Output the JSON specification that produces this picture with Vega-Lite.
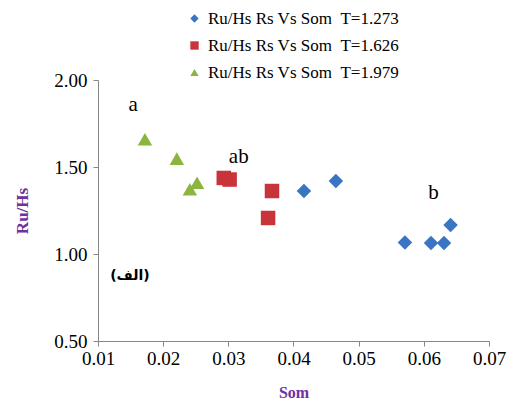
{
  "$schema": "https://vega.github.io/schema/vega-lite/v6.json",
  "width": 391,
  "height": 261,
  "autosize": {"type": "none"},
  "padding": {"left": 98, "top": 80, "right": 18, "bottom": 61},
  "background": "white",
  "config": {
    "view": {"stroke": null},
    "font": "Liberation Serif"
  },
  "datasets": {
    "pts": [
      {"Som": 0.0416, "RuHs": 1.362, "series": "Ru/Hs Rs Vs Som\u00a0\u00a0T=1.273"},
      {"Som": 0.0465, "RuHs": 1.420, "series": "Ru/Hs Rs Vs Som\u00a0\u00a0T=1.273"},
      {"Som": 0.0571, "RuHs": 1.066, "series": "Ru/Hs Rs Vs Som\u00a0\u00a0T=1.273"},
      {"Som": 0.0611, "RuHs": 1.063, "series": "Ru/Hs Rs Vs Som\u00a0\u00a0T=1.273"},
      {"Som": 0.0631, "RuHs": 1.063, "series": "Ru/Hs Rs Vs Som\u00a0\u00a0T=1.273"},
      {"Som": 0.0641, "RuHs": 1.167, "series": "Ru/Hs Rs Vs Som\u00a0\u00a0T=1.273"},
      {"Som": 0.0293, "RuHs": 1.437, "series": "Ru/Hs Rs Vs Som\u00a0\u00a0T=1.626"},
      {"Som": 0.0302, "RuHs": 1.428, "series": "Ru/Hs Rs Vs Som\u00a0\u00a0T=1.626"},
      {"Som": 0.0367, "RuHs": 1.362, "series": "Ru/Hs Rs Vs Som\u00a0\u00a0T=1.626"},
      {"Som": 0.0361, "RuHs": 1.207, "series": "Ru/Hs Rs Vs Som\u00a0\u00a0T=1.626"},
      {"Som": 0.0172, "RuHs": 1.660, "series": "Ru/Hs Rs Vs Som\u00a0\u00a0T=1.979"},
      {"Som": 0.0221, "RuHs": 1.548, "series": "Ru/Hs Rs Vs Som\u00a0\u00a0T=1.979"},
      {"Som": 0.0252, "RuHs": 1.410, "series": "Ru/Hs Rs Vs Som\u00a0\u00a0T=1.979"},
      {"Som": 0.0241, "RuHs": 1.372, "series": "Ru/Hs Rs Vs Som\u00a0\u00a0T=1.979"}
    ],
    "labels": [
      {"Som": 0.0154, "RuHs": 1.856, "t": "a"},
      {"Som": 0.0316, "RuHs": 1.557, "t": "ab"},
      {"Som": 0.0615, "RuHs": 1.35, "t": "b"}
    ],
    "alef": [
      {"Som": 0.0149, "RuHs": 0.874, "t": "(الف)"}
    ]
  },
  "layer": [
    {
      "data": {"name": "pts"},
      "mark": {"type": "point", "filled": true, "opacity": 1, "size": 210},
      "encoding": {
        "x": {
          "field": "Som", "type": "quantitative",
          "scale": {"domain": [0.01, 0.07], "nice": false, "zero": false},
          "axis": {
            "title": "Som", "format": ".2f", "values": [0.01, 0.02, 0.03, 0.04, 0.05, 0.06, 0.07],
            "grid": false, "domainColor": "#868686", "tickColor": "#868686", "tickSize": 5,
            "labelFont": "Liberation Serif", "labelFontSize": 19, "labelColor": "#000000", "labelPadding": 3,
            "labelFlush": false, "labelOverlap": false,
            "titleFont": "Liberation Serif", "titleFontSize": 16, "titleFontWeight": "bold", "titleColor": "#7030A0", "titlePadding": 16
          }
        },
        "y": {
          "field": "RuHs", "type": "quantitative",
          "scale": {"domain": [0.5, 2.0], "nice": false, "zero": false},
          "axis": {
            "title": "Ru/Hs", "format": ".2f", "values": [0.5, 1.0, 1.5, 2.0],
            "grid": false, "domainColor": "#868686", "tickColor": "#868686", "tickSize": 5,
            "labelFont": "Liberation Serif", "labelFontSize": 19, "labelColor": "#000000", "labelPadding": 6,
            "labelFlush": false, "labelOverlap": false,
            "titleFont": "Liberation Serif", "titleFontSize": 17, "titleFontWeight": "bold", "titleColor": "#7030A0", "titlePadding": 22
          }
        },
        "color": {
          "field": "series", "type": "nominal",
          "scale": {"domain": ["Ru/Hs Rs Vs Som\u00a0\u00a0T=1.273", "Ru/Hs Rs Vs Som\u00a0\u00a0T=1.626", "Ru/Hs Rs Vs Som\u00a0\u00a0T=1.979"], "range": ["#3a75c4", "#c9343a", "#8cb53f"]},
          "legend": {
            "title": null, "orient": "none", "legendX": 88, "legendY": -70,
            "labelFont": "Liberation Serif", "labelFontSize": 17, "labelColor": "#000000",
            "symbolSize": 70, "rowPadding": 9, "labelOffset": 5, "labelLimit": 400
          }
        },
        "shape": {
          "field": "series", "type": "nominal",
          "scale": {"domain": ["Ru/Hs Rs Vs Som\u00a0\u00a0T=1.273", "Ru/Hs Rs Vs Som\u00a0\u00a0T=1.626", "Ru/Hs Rs Vs Som\u00a0\u00a0T=1.979"], "range": ["diamond", "square", "triangle-up"]}
        }
      }
    },
    {
      "data": {"name": "labels"},
      "mark": {"type": "text", "font": "Liberation Serif", "fontSize": 21, "color": "#000000", "align": "center", "baseline": "middle"},
      "encoding": {
        "x": {"field": "Som", "type": "quantitative"},
        "y": {"field": "RuHs", "type": "quantitative"},
        "text": {"field": "t"}
      }
    },
    {
      "data": {"name": "alef"},
      "mark": {"type": "text", "font": "DejaVu Sans", "fontSize": 14, "fontWeight": "bold", "color": "#000000", "align": "center", "baseline": "middle"},
      "encoding": {
        "x": {"field": "Som", "type": "quantitative"},
        "y": {"field": "RuHs", "type": "quantitative"},
        "text": {"field": "t"}
      }
    }
  ]
}
